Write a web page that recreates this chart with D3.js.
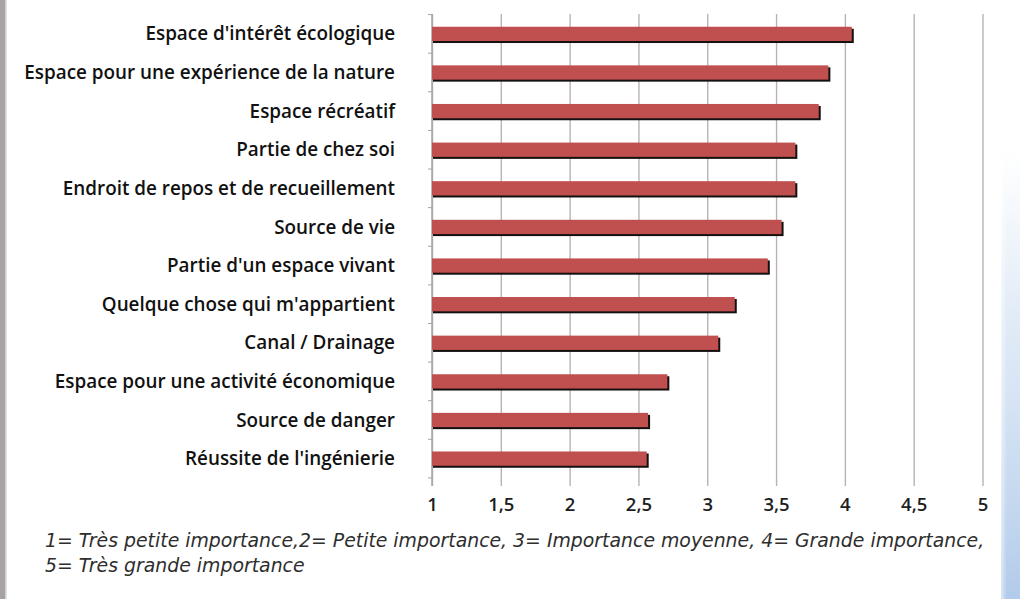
<!DOCTYPE html>
<html>
<head>
<meta charset="utf-8">
<script src="https://cdn.jsdelivr.net/npm/d3@7"></script>
<style>
  html, body { margin: 0; padding: 0; background: #fff; }
  svg { display: block; }
</style>
</head>
<body>
<svg id="chart" width="1020" height="599"></svg>
<script>
// Perception of the river space: mean importance score per attribute
const categories = [
  "Espace d'intérêt écologique",
  "Espace pour une expérience de la nature",
  "Espace récréatif",
  "Partie de chez soi",
  "Endroit de repos et de recueillement",
  "Source de vie",
  "Partie d'un espace vivant",
  "Quelque chose qui m'appartient",
  "Canal / Drainage",
  "Espace pour une activité économique",
  "Source de danger",
  "Réussite de l'ingénierie"
];
const scores = [4.05, 3.88, 3.81, 3.64, 3.64, 3.54, 3.44, 3.20, 3.08, 2.71, 2.57, 2.56];
const tickValues = [1, 1.5, 2, 2.5, 3, 3.5, 4, 4.5, 5];
const noteLines = [
  "1= Très petite importance,2= Petite importance, 3= Importance moyenne, 4= Grande importance,",
  "5= Très grande importance"
];

const svg = d3.select("#chart");
const defs = svg.append("defs");

// frame decorations: grey strip on the left, blue fade on the right
svg.append("rect").attr("x", 0).attr("y", 0).attr("width", 5).attr("height", 599).attr("fill", "#a7a3a4");
svg.append("rect").attr("x", 5).attr("y", 0).attr("width", 1.5).attr("height", 599).attr("fill", "#cfcdce");

const blue = defs.append("linearGradient").attr("id", "blueFade")
  .attr("x1", 0).attr("y1", 0).attr("x2", 0).attr("y2", 1);
blue.append("stop").attr("offset", "0%").attr("stop-color", "#d6e3f3").attr("stop-opacity", 0);
blue.append("stop").attr("offset", "35%").attr("stop-color", "#d0e0f2").attr("stop-opacity", 0.6);
blue.append("stop").attr("offset", "100%").attr("stop-color", "#b2cbea").attr("stop-opacity", 1);
svg.append("rect").attr("x", 1001).attr("y", 150).attr("width", 19).attr("height", 449).attr("fill", "url(#blueFade)");

const blueSide = defs.append("linearGradient").attr("id", "blueSide")
  .attr("x1", 0).attr("y1", 0).attr("x2", 1).attr("y2", 0);
blueSide.append("stop").attr("offset", "0%").attr("stop-color", "#ffffff").attr("stop-opacity", 0.55);
blueSide.append("stop").attr("offset", "30%").attr("stop-color", "#ffffff").attr("stop-opacity", 0);
svg.append("rect").attr("x", 1001).attr("y", 150).attr("width", 19).attr("height", 449).attr("fill", "url(#blueSide)");

const plotTop = 14, plotBottom = 478.5, gridBottom = 486;
const x = d3.scaleLinear().domain([1, 5]).range([432, 982.5]);
const y = d3.scaleBand().domain(categories).range([plotTop, plotBottom]).paddingInner(0.63).paddingOuter(0.33);

// shrink or grow a group of texts so its widest line spans the given width
function fitWidth(sel, target) {
  let widest = 0;
  sel.each(function () { widest = Math.max(widest, this.getComputedTextLength()); });
  const size = parseFloat(sel.style("font-size"));
  sel.style("font-size", (size * target / widest).toFixed(2) + "px");
}

// vertical gridlines with tick labels
const xAxis = d3.axisBottom(x)
  .tickValues(tickValues)
  .tickSize(-(gridBottom - plotTop))
  .tickFormat(d => String(d).replace(".", ","));
const gx = svg.append("g").attr("transform", `translate(0,${gridBottom})`).call(xAxis);
gx.select(".domain").remove();
gx.selectAll(".tick line").attr("stroke", "#bbb3b3").attr("stroke-width", 1.4);
gx.selectAll(".tick text")
  .attr("y", 12)
  .attr("fill", "#1e1e1e")
  .style("font-family", "'Open Sans', sans-serif")
  .style("font-size", "18.5px")
  .style("font-weight", "600");

// category axis line with small tick marks between bands
const gy = svg.append("g").attr("transform", `translate(${x(1)},0)`);
gy.append("line").attr("x1", 0).attr("x2", 0).attr("y1", plotTop).attr("y2", gridBottom)
  .attr("stroke", "#a9a2a2").attr("stroke-width", 1.4);
const step = y.step();
const bounds = d3.range(categories.length + 1).map(i => y(categories[0]) - (y.step() - y.bandwidth()) / 2 + i * step);
gy.selectAll("line.tk").data(bounds).join("line").attr("class", "tk")
  .attr("x1", -4).attr("x2", 0).attr("y1", d => d).attr("y2", d => d)
  .attr("stroke", "#a9a2a2").attr("stroke-width", 1);

// bars: dark drop shadow then red face
const bars = svg.append("g");
bars.selectAll("rect.sh").data(categories).join("rect").attr("class", "sh")
  .attr("x", x(1) + 1)
  .attr("y", d => y(d) + 2)
  .attr("width", (d, i) => x(scores[i]) - x(1) + 1)
  .attr("height", y.bandwidth())
  .attr("fill", "#151010");
bars.selectAll("rect.bar").data(categories).join("rect").attr("class", "bar")
  .attr("x", x(1))
  .attr("y", d => y(d))
  .attr("width", (d, i) => x(scores[i]) - x(1))
  .attr("height", y.bandwidth())
  .attr("fill", "#c0504f");

// category labels, right aligned
const labels = svg.append("g").selectAll("text").data(categories).join("text")
  .attr("x", 395)
  .attr("y", d => y(d) + y.bandwidth() / 2)
  .attr("dy", "0.35em")
  .attr("text-anchor", "end")
  .attr("fill", "#111")
  .style("font-family", "'Open Sans', sans-serif")
  .style("font-size", "17px")
  .style("font-weight", "600")
  .text(d => d);
fitWidth(labels, 371);

// scale explanation under the chart
const notes = svg.append("g").selectAll("text").data(noteLines).join("text")
  .attr("x", 45)
  .attr("y", (d, i) => 547 + i * 25)
  .attr("fill", "#2e2e2e")
  .style("font-family", "'DejaVu Sans', sans-serif")
  .style("font-style", "italic")
  .style("font-weight", "400")
  .style("font-size", "17px")
  .text(d => d);
fitWidth(notes, 940);
</script>
</body>
</html>
